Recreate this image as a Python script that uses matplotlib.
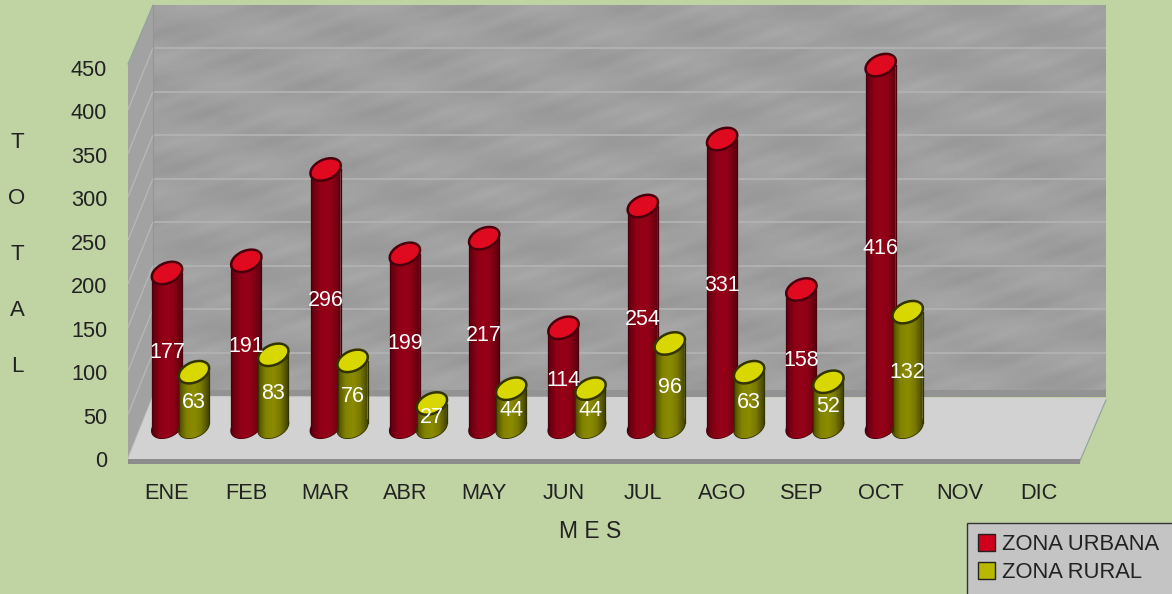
import numpy as np
import matplotlib
matplotlib.use('Agg')
import matplotlib.pyplot as plt
import matplotlib.patches as mpatches
from matplotlib.patches import Ellipse, Polygon, Rectangle
from matplotlib.colors import LinearSegmentedColormap
from matplotlib.transforms import Affine2D

plt.rcParams['font.family'] = ['Liberation Sans', 'DejaVu Sans']

# Datos del grafico
MESES = ['ENE', 'FEB', 'MAR', 'ABR', 'MAY', 'JUN', 'JUL', 'AGO', 'SEP', 'OCT', 'NOV', 'DIC']
URBANA = [177, 191, 296, 199, 217, 114, 254, 331, 158, 416]
RURAL = [63, 83, 76, 27, 44, 44, 96, 63, 52, 132]
TICKS_Y = [0, 50, 100, 150, 200, 250, 300, 350, 400, 450]
SERIES = ['ZONA URBANA', 'ZONA RURAL']

FONDO = '#c0d3a3'
ANCHO, ALTO = 1172, 594
PASO = 79.3
ESCALA = 0.87


def area(x0, x1, y0, y1):
    # Fracciones de figura a partir de pixeles
    return [x0 / ANCHO, 1 - y1 / ALTO, (x1 - x0) / ANCHO, (y1 - y0) / ALTO]


fig = plt.figure(figsize=(ANCHO / 100, ALTO / 100), dpi=100, facecolor=FONDO)

# Caja 3D en pixeles
ax_caja = fig.add_axes([0, 0, 1, 1])
ax_caja.axis('off')

# Textura de la pared de fondo, vetas casi horizontales y de poco contraste
xx, yy = np.meshgrid(np.arange(953), np.arange(392))
textura = (np.sin((0.25 * xx + yy) / 7) + np.sin((0.4 * xx - yy) / 11)
           + 0.7 * np.sin((0.6 * xx + 1.6 * yy) / 4.5) * np.sin((yy - 0.3 * xx) / 19))
ax_caja.imshow(0.625 + 0.012 * textura, extent=(153, 1106, 396, 5), cmap='gray', vmin=0, vmax=1,
               aspect='auto', zorder=1, interpolation='bilinear')
ax_caja.set_xlim(0, ANCHO)
ax_caja.set_ylim(ALTO, 0)

ax_caja.add_patch(Polygon([(128, 64), (153, 5), (153, 396), (128, 459)], closed=True,
                          facecolor='#a2a2a2', edgecolor='none', zorder=2))
for i in range(9):
    y = 48 + i * 43.5
    ax_caja.plot([153, 1106], [y, y], color='#b0b0b0', lw=1.5, solid_capstyle='butt', zorder=3)
    ax_caja.plot([128, 153], [y + 62, y], color='#b8b8b8', lw=0.9, solid_capstyle='butt', zorder=3)
ax_caja.plot([153, 153], [5, 396], color='#949494', lw=0.8, zorder=3)
ax_caja.plot([128, 153], [64, 5], color='#8fa3a0', lw=0.8, zorder=3)

# Piso
ax_caja.add_patch(Rectangle((153, 390), 953, 7, facecolor='#939393', edgecolor='none', zorder=3))
ax_caja.add_patch(Polygon([(128, 459), (153, 396), (1106, 398), (1080, 459)], closed=True,
                          facecolor='#d2d2d2', edgecolor='none', zorder=4))
ax_caja.add_patch(Rectangle((128, 459), 952, 4.5, facecolor='#8c8c8c', edgecolor='none', zorder=4))
ax_caja.plot([1080, 1106], [461, 400], color='#8fa3a0', lw=0.8, zorder=4)

# Caja de la leyenda, se sale del borde como en el original
ax_caja.add_patch(Rectangle((967, 523), 220, 90, facecolor='#c4c4c4', edgecolor='#333333',
                            lw=1, zorder=4))

# Ejes con los valores: escala de las barras
ax = fig.add_axes([0, 0, 1, 1], facecolor='none')
ax.set_xlim(-167 / PASO, (ANCHO - 167) / PASO)
ax.set_ylim((427 - ALTO) / ESCALA, 427 / ESCALA)
ax.axis('off')

ROJO = LinearSegmentedColormap.from_list('rojo', ['#5a000e', '#8a0014', '#960018', '#8a0014', '#5c000e'])
OLIVA = LinearSegmentedColormap.from_list('oliva', ['#4e4e00', '#828200', '#8c8c00', '#787800', '#454500'])
gradiente = np.linspace(0, 1, 64).reshape(1, -1)


def ellipse_px(x, v, ancho=32, alto=20, angulo=24, **kw):
    # Elipse inclinada, con forma fija en pixeles y centro en coordenadas de datos
    cx, cy = ax.transData.transform((x, v))
    e = Ellipse((0, 0), ancho, alto, angle=angulo,
                transform=Affine2D().translate(cx, cy), **kw)
    ax.add_patch(e)
    return e


def cilindro(x, v, cmap, tapa, borde):
    w = 30 / PASO
    d = 3.8 / ESCALA  # inclinacion de la base
    # base redondeada
    base = ellipse_px(x, 0, facecolor='none', edgecolor=borde, lw=1.2, zorder=5)
    img = ax.imshow(gradiente, extent=(x - w / 2, x + w / 2, -20, 8), cmap=cmap, aspect='auto', zorder=5)
    img.set_clip_path(base)
    # cuerpo, con el borde inferior inclinado igual que la base
    cuerpo = Polygon([(x - w / 2, -d), (x + w / 2, d), (x + w / 2, v), (x - w / 2, v)],
                     closed=True, facecolor='none', edgecolor='none', zorder=6)
    ax.add_patch(cuerpo)
    img = ax.imshow(gradiente, extent=(x - w / 2, x + w / 2, -d, v), cmap=cmap, aspect='auto', zorder=6)
    img.set_clip_path(cuerpo)
    ax.plot([x - w / 2, x - w / 2], [-d, v], color=borde, lw=0.9, zorder=6)
    ax.plot([x + w / 2, x + w / 2], [d, v], color=borde, lw=0.9, zorder=6)
    # tapa
    ellipse_px(x, v, facecolor=tapa, edgecolor=borde, lw=1.8, zorder=7)
    ax.text(x, v / 2 - 3, str(v), color='white', fontsize=15.5, ha='center', va='center', zorder=8)


DESPLAZA = 27 / PASO
for i, v in enumerate(URBANA):
    cilindro(i, v, ROJO, '#e00a20', '#4a000c')
for i, v in enumerate(RURAL):
    cilindro(i + DESPLAZA, v, OLIVA, '#d8d800', '#333300')
ax.set_xlim(-167 / PASO, (ANCHO - 167) / PASO)
ax.set_ylim((427 - ALTO) / ESCALA, 427 / ESCALA)

# Ejes del plano frontal, solo para las marcas de texto
ax_marcas = fig.add_axes(area(128, 1080, 68, 459), facecolor='none')
ax_marcas.set_xlim((128 - 167) / PASO, (1080 - 167) / PASO)
ax_marcas.set_ylim(0, 450)
ax_marcas.set_xticks(range(len(MESES)))
ax_marcas.set_xticklabels(MESES)
ax_marcas.set_yticks(TICKS_Y)
ax_marcas.tick_params(axis='both', length=0, labelsize=15.7, labelcolor='#222222')
ax_marcas.tick_params(axis='x', pad=17)
ax_marcas.tick_params(axis='y', pad=15)
for lado in ax_marcas.spines.values():
    lado.set_visible(False)

# Titulos de los ejes
for letra, y in zip('TOTAL', [142, 198, 254, 310, 366]):
    ax_caja.text(17, y, letra, fontsize=16, color='#222222', ha='center', va='center')
ax_caja.text(590, 531, 'M E S', fontsize=16.5, color='#222222', ha='center', va='center')

# Leyenda
parches = [mpatches.Patch(facecolor='#d0001c', edgecolor='#222222', label=SERIES[0]),
           mpatches.Patch(facecolor='#b8b800', edgecolor='#222222', label=SERIES[1])]
fig.legend(handles=parches, loc='upper left', bbox_to_anchor=(967 / ANCHO, 1 - 523 / ALTO),
           fontsize=15.8, frameon=False, handlelength=0.78, handleheight=0.78,
           handletextpad=0.32, labelspacing=0.32, borderaxespad=0, borderpad=0.5,
           labelcolor='#222222')

fig.savefig('out.png', dpi=100, facecolor=FONDO)
